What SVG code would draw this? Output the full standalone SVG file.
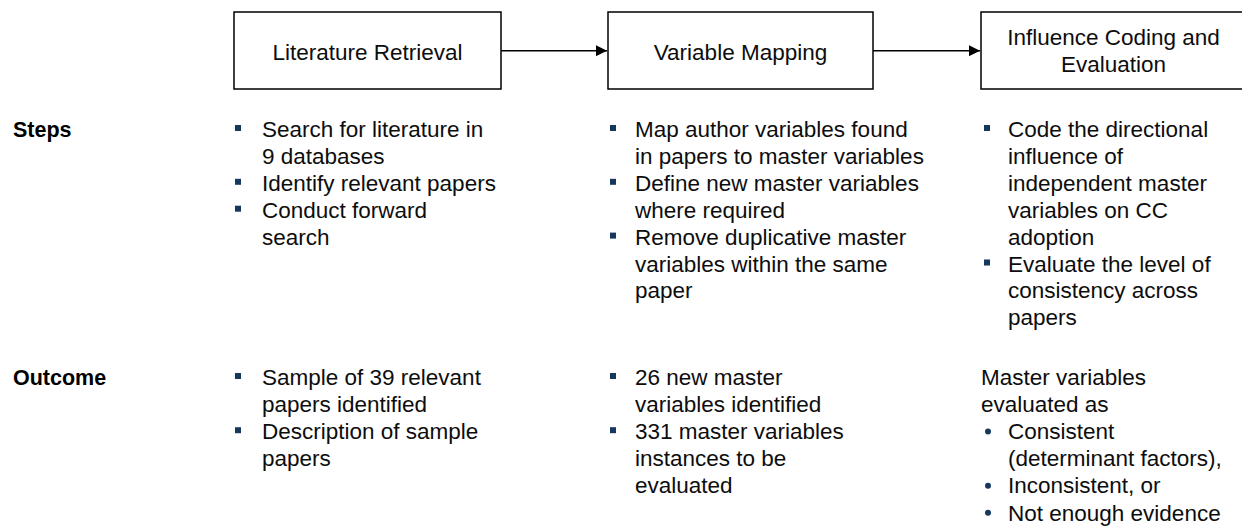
<svg xmlns="http://www.w3.org/2000/svg" width="1242" height="529" viewBox="0 0 1242 529">
<style>
.box{fill:#fff;stroke:#000;stroke-width:1.5}
.t{font-family:"Liberation Sans",Arial,sans-serif;font-size:22.5px;fill:#0d0d0d}
.c{text-anchor:middle}
.h{font-family:"Liberation Sans",Arial,sans-serif;font-size:21.5px;font-weight:bold;fill:#000}
.sq{fill:#17375e}
.conn{stroke:#000;stroke-width:1.5;fill:none}
</style>
<defs>
<marker id="ah" viewBox="0 0 11 11" refX="11" refY="5.5" markerWidth="11" markerHeight="11" markerUnits="userSpaceOnUse" orient="auto">
<path d="M0,0 L11,5.5 L0,11 Z" fill="#000"/>
</marker>
</defs>
<rect width="1242" height="529" fill="#fff"/>
<g id="connectors">
<line class="conn" x1="501" y1="50.7" x2="607" y2="50.7" marker-end="url(#ah)"/>
<line class="conn" x1="873" y1="50.7" x2="980" y2="50.7" marker-end="url(#ah)"/>
</g>
<g id="node-literature-retrieval">
<rect class="box" x="234" y="12" width="267" height="77"/>
<text class="t c" x="367.5" y="60">Literature Retrieval</text>
</g>
<g id="node-variable-mapping">
<rect class="box" x="608" y="12" width="265" height="77"/>
<text class="t c" x="740.5" y="60">Variable Mapping</text>
</g>
<g id="node-influence-coding">
<rect class="box" x="981" y="12" width="270" height="77"/>
<text class="t c" x="1113.5" y="45">Influence Coding and</text>
<text class="t c" x="1113.5" y="72">Evaluation</text>
</g>
<g id="label-steps">
<text class="h" x="13" y="137">Steps</text>
</g>
<g id="label-outcome">
<text class="h" x="13" y="385">Outcome</text>
</g>
<g id="steps-col1">
<rect class="sq" x="235" y="125" width="6" height="6"/>
<rect class="sq" x="235" y="178.8" width="6" height="6"/>
<rect class="sq" x="235" y="205.7" width="6" height="6"/>
<text class="t" x="262" y="137">Search for literature in</text>
<text class="t" x="262" y="163.9">9 databases</text>
<text class="t" x="262" y="190.8">Identify relevant papers</text>
<text class="t" x="262" y="217.7">Conduct forward</text>
<text class="t" x="262" y="244.6">search</text>
</g>
<g id="steps-col2">
<rect class="sq" x="610" y="125" width="6" height="6"/>
<rect class="sq" x="610" y="178.8" width="6" height="6"/>
<rect class="sq" x="610" y="232.6" width="6" height="6"/>
<text class="t" x="635" y="137">Map author variables found</text>
<text class="t" x="635" y="163.9">in papers to master variables</text>
<text class="t" x="635" y="190.8">Define new master variables</text>
<text class="t" x="635" y="217.7">where required</text>
<text class="t" x="635" y="244.6">Remove duplicative master</text>
<text class="t" x="635" y="271.5">variables within the same</text>
<text class="t" x="635" y="298.4">paper</text>
</g>
<g id="steps-col3">
<rect class="sq" x="984" y="125" width="6" height="6"/>
<rect class="sq" x="984" y="259.5" width="6" height="6"/>
<text class="t" x="1008" y="137">Code the directional</text>
<text class="t" x="1008" y="163.9">influence of</text>
<text class="t" x="1008" y="190.8">independent master</text>
<text class="t" x="1008" y="217.7">variables on CC</text>
<text class="t" x="1008" y="244.6">adoption</text>
<text class="t" x="1008" y="271.5">Evaluate the level of</text>
<text class="t" x="1008" y="298.4">consistency across</text>
<text class="t" x="1008" y="325.3">papers</text>
</g>
<g id="outcome-col1">
<rect class="sq" x="235" y="373" width="6" height="6"/>
<rect class="sq" x="235" y="427.2" width="6" height="6"/>
<text class="t" x="262" y="385">Sample of 39 relevant</text>
<text class="t" x="262" y="412.1">papers identified</text>
<text class="t" x="262" y="439.2">Description of sample</text>
<text class="t" x="262" y="466.3">papers</text>
</g>
<g id="outcome-col2">
<rect class="sq" x="610" y="373" width="6" height="6"/>
<rect class="sq" x="610" y="427.2" width="6" height="6"/>
<text class="t" x="635" y="385">26 new master</text>
<text class="t" x="635" y="412.1">variables identified</text>
<text class="t" x="635" y="439.2">331 master variables</text>
<text class="t" x="635" y="466.3">instances to be</text>
<text class="t" x="635" y="493.4">evaluated</text>
</g>
<g id="outcome-col3">
<text class="t" x="981" y="385">Master variables</text>
<text class="t" x="981" y="412.1">evaluated as</text>
<circle class="sq" cx="988" cy="431.5" r="3"/>
<circle class="sq" cx="988" cy="485.7" r="3"/>
<circle class="sq" cx="988" cy="512.8" r="3"/>
<text class="t" x="1008" y="439.2">Consistent</text>
<text class="t" x="1008" y="466.3">(determinant factors),</text>
<text class="t" x="1008" y="493.4">Inconsistent, or</text>
<text class="t" x="1008" y="520.5">Not enough evidence</text>
</g>
</svg>
